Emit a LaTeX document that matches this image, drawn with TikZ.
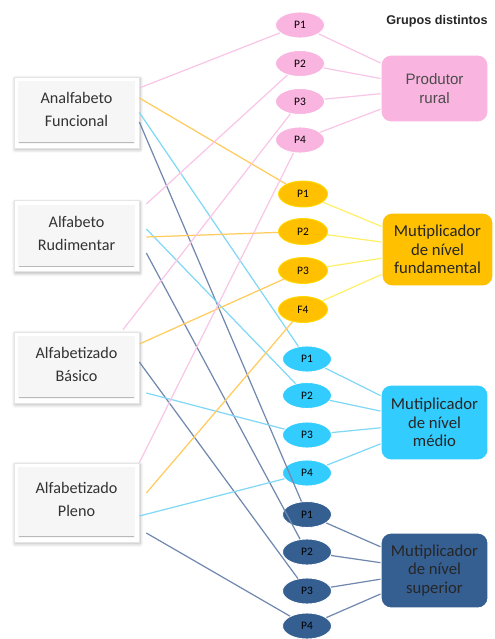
\documentclass[tikz,border=0pt]{standalone}
\usepackage{fontspec}
\setmainfont{Carlito}
\newfontfamily\arialfont{Liberation Sans}
\usetikzlibrary{positioning, shapes.geometric, shadows.blur}

\definecolor{rosa}{HTML}{F9B4DF}
\definecolor{rosalinha}{HTML}{F8C6E6}
\definecolor{ouro}{HTML}{FFC000}
\definecolor{ourolinha}{HTML}{FFCB5C}
\definecolor{amarelolinha}{HTML}{FFF06A}
\definecolor{ciano}{HTML}{33CCFF}
\definecolor{cianolinha}{HTML}{80D8F6}
\definecolor{marinho}{HTML}{355E91}
\definecolor{marinholinha}{HTML}{7189AE}

\tikzset{
	nivel/.style={rectangle, fill=white, draw=gray!20, minimum width=2.5cm, minimum height=1.42cm,
		align=center, text=black!80, font=\fontsize{9.2}{13}\selectfont, text depth=0.12cm,
		blur shadow={shadow blur steps=6, shadow xshift=0.6pt, shadow yshift=-1pt, shadow opacity=30},
		path picture={
			\fill[gray!7] ([shift={(2.5pt,2.5pt)}]path picture bounding box.south west) rectangle ([shift={(-2.5pt,-2.5pt)}]path picture bounding box.north east);
			\draw[gray!55, line width=0.8pt] ([shift={(3pt,3pt)}]path picture bounding box.south west) -- ([shift={(-3pt,3pt)}]path picture bounding box.south east);
		}},
	perfil/.style={ellipse, draw=white, line width=0.5pt, minimum width=0.98cm, minimum height=0.52cm,
		inner sep=0pt, font=\fontsize{6.5}{7}\selectfont},
	grupo/.style={rectangle, rounded corners=0.2cm, draw=white, line width=0.6pt, minimum width=2.14cm,
		minimum height=1.5cm, align=center, text=black!85, font=\fontsize{9.5}{10.5}\selectfont},
	liga/.style={line width=0.7pt}
}

\begin{document}
\begin{tikzpicture}[x=0.02cm, y=-0.02cm]
	\useasboundingbox (0,0) rectangle (494,639);
	
	% Niveis de alfabetismo
	\node[nivel] (af) at (76.5,112.5) {Analfabeto\\Funcional};
	\node[nivel] (ar) at (76.5,236) {Alfabeto\\Rudimentar};
	\node[nivel] (ab) at (76.5,367.5) {Alfabetizado\\B\'asico};
	\node[nivel, minimum height=1.58cm] (ap) at (76.5,502.5) {Alfabetizado\\Pleno};
	
	% Perfis
	\foreach \i/\y in {1/25, 2/63.5, 3/101.5, 4/140}
		\node[perfil, fill=rosa] (pk\i) at (300,\y) {P\i};
	\foreach \i/\y/\t in {1/194/P1, 2/231.5/P2, 3/270.5/P3, 4/309.5/F4}
		\node[perfil, fill=ouro, draw=ouro!60!yellow] (or\i) at (303,\y) {\t};
	\foreach \i/\y in {1/359, 2/395.5, 3/435, 4/473}
		\node[perfil, fill=ciano] (cy\i) at (307,\y) {P\i};
	\foreach \i/\y in {1/514.5, 2/552, 3/591, 4/626}
		\node[perfil, fill=marinho] (nv\i) at (307,\y) {P\i};
	
	% Grupos
	\node[font=\arialfont\bfseries\fontsize{7.2}{8}\selectfont, text=black!85] (titulo) at (437,21) {Grupos distintos};
	\node[grupo, fill=rosa, minimum height=1.34cm, text=black!70, font=\arialfont\fontsize{8.6}{10.4}\selectfont] (rural) at (434.5,88.5) {Produtor\\rural};
	\node[grupo, fill=ouro, minimum width=2.22cm, minimum height=1.46cm] (fund) at (437.5,249.5) {Mutiplicador\\de n\'ivel\\fundamental};
	\node[grupo, fill=ciano] (medio) at (434.5,422.5) {Mutiplicador\\de n\'ivel\\m\'edio};
	\node[grupo, fill=marinho] (sup) at (434.5,570.5) {Mutiplicador\\de n\'ivel\\superior};
	
	% Perfis ate grupos
	\foreach \i in {1,...,4} {
		\draw[liga, rosalinha] (pk\i) -- (rural);
		\draw[liga, amarelolinha] (or\i) -- (fund);
		\draw[liga, cianolinha] (cy\i) -- (medio);
		\draw[liga, marinholinha] (nv\i) -- (sup);
	}
	
	% Analfabeto Funcional
	\draw[liga, rosalinha] ([yshift=0.49cm]af.east) -- (pk1);
	\draw[liga, ourolinha] ([yshift=0.29cm]af.east) -- (or1);
	\draw[liga, cianolinha] (af.east) -- (cy1);
	\draw[liga, marinholinha] ([yshift=-0.19cm]af.east) -- (nv1);
	
	% Alfabeto Rudimentar
	\draw[liga, rosalinha] ([shift={(0.14cm,0.64cm)}]ar.east) -- (pk2);
	\draw[liga, cianolinha] ([shift={(0.14cm,0.14cm)}]ar.east) -- (cy2);
	\draw[liga, ourolinha] ([shift={(0.14cm,-0.02cm)}]ar.east) -- (or2);
	\draw[liga, marinholinha] ([shift={(0.14cm,-0.34cm)}]ar.east) -- (nv2);
	
	% Alfabetizado Basico
	\draw[liga, rosalinha] ([shift={(0.93cm,0.04cm)}]ab.north) -- (pk3);
	\draw[liga, ourolinha] ([yshift=0.47cm]ab.east) -- (or3);
	\draw[liga, marinholinha] ([yshift=0.11cm]ab.east) -- (nv3);
	\draw[liga, cianolinha] ([shift={(0.14cm,-0.51cm)}]ab.east) -- (cy3);
	
	% Alfabetizado Pleno
	\draw[liga, rosalinha] (ap.north east) -- (pk4);
	\draw[liga, ourolinha] ([shift={(0.14cm,0.19cm)}]ap.east) -- (or4);
	\draw[liga, cianolinha] ([yshift=-0.27cm]ap.east) -- (cy4);
	\draw[liga, marinholinha] ([shift={(0.14cm,-0.61cm)}]ap.east) -- (nv4);
\end{tikzpicture}
\end{document}
